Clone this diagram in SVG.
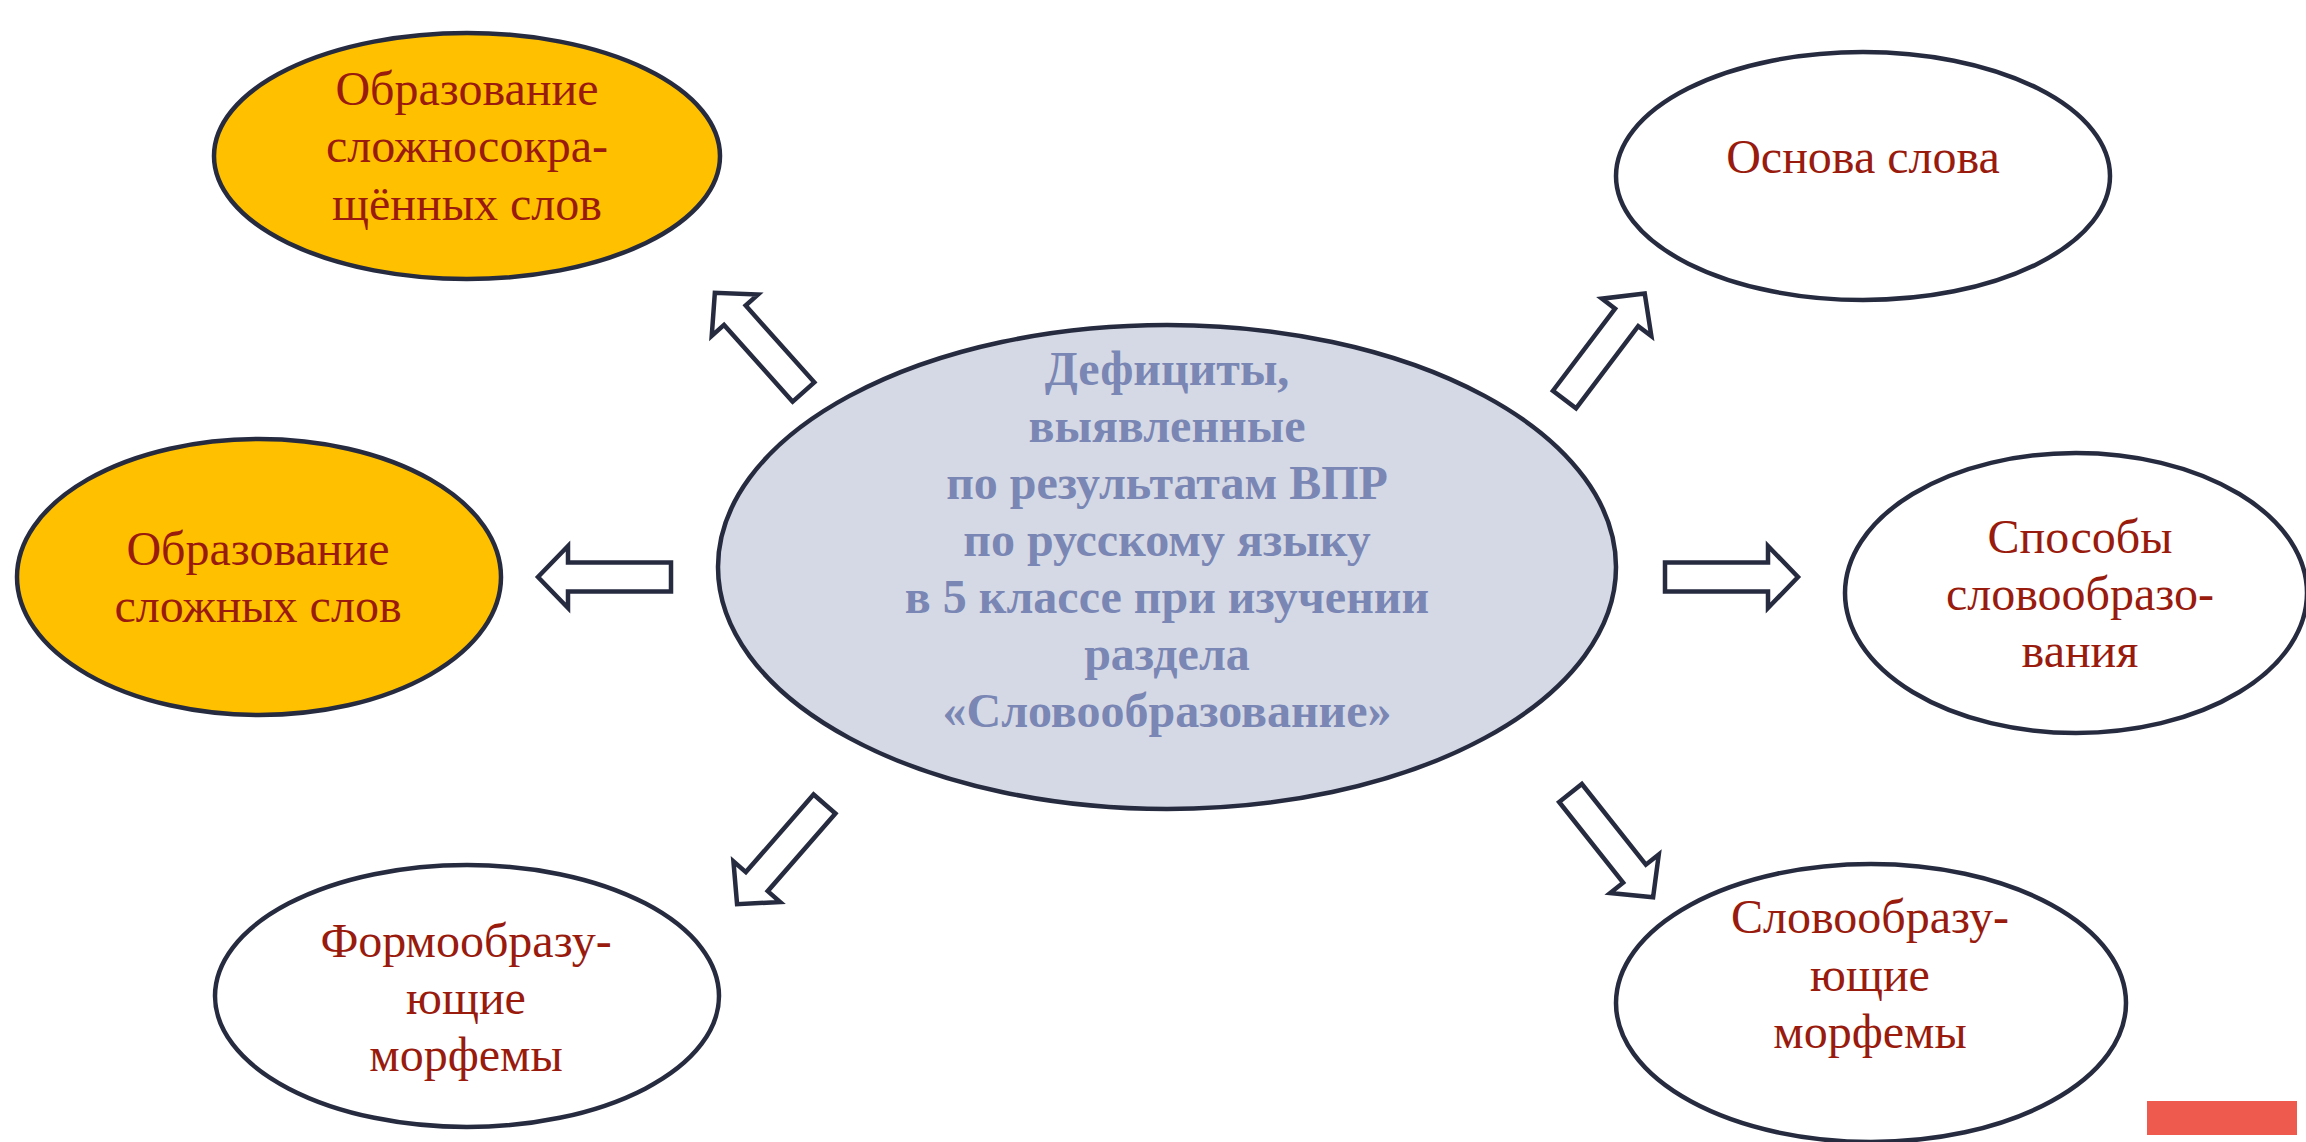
<svg xmlns="http://www.w3.org/2000/svg" xmlns:xlink="http://www.w3.org/1999/xlink" width="2306" height="1142" viewBox="0 0 2306 1142">
<style>
.node{stroke:#262B40;stroke-width:4.5}
.yellow{fill:#FFC000}
.white{fill:#FFFFFF}
.center{fill:#D5D9E5}
.lbl{font-family:"Liberation Serif","Times New Roman",serif;font-size:48px;fill:#981B0E;text-anchor:middle}
.clbl{font-family:"Liberation Serif","Times New Roman",serif;font-size:48px;font-weight:bold;fill:#7A86B4;text-anchor:middle}
.arr{fill:#FFFFFF;stroke:#262B40;stroke-width:4.5;stroke-linejoin:miter}
</style>
<defs>
<polygon id="blockArrow" class="arr" points="0,-14.5 103,-14.5 103,-31 133,0 103,31 103,14.5 0,14.5"/>
</defs>
<rect width="2306" height="1142" fill="#FFFFFF"/>
<g id="connectors">
<use xlink:href="#blockArrow" href="#blockArrow" transform="translate(1665,577) rotate(0)"/>
<use xlink:href="#blockArrow" href="#blockArrow" transform="translate(671,577) rotate(180)"/>
<use xlink:href="#blockArrow" href="#blockArrow" transform="translate(803.5,392) rotate(-131.8)"/>
<use xlink:href="#blockArrow" href="#blockArrow" transform="translate(1564.5,399.5) rotate(-52.9)"/>
<use xlink:href="#blockArrow" href="#blockArrow" transform="translate(824.5,804) rotate(131.1)"/>
<use xlink:href="#blockArrow" href="#blockArrow" transform="translate(1570.5,793) rotate(51.6)"/>
</g>
<g id="node-center">
<ellipse class="node center" cx="1167" cy="567" rx="449" ry="242"/>
<text class="clbl" x="1167" y="385">Дефициты,</text>
<text class="clbl" x="1167" y="442">выявленные</text>
<text class="clbl" x="1167" y="499">по результатам ВПР</text>
<text class="clbl" x="1167" y="556">по русскому языку</text>
<text class="clbl" x="1167" y="613">в 5 классе при изучении</text>
<text class="clbl" x="1167" y="670">раздела</text>
<text class="clbl" x="1167" y="727">«Словообразование»</text>
</g>
<g id="node-slozhnosokr">
<ellipse class="node yellow" cx="467" cy="156" rx="253" ry="123"/>
<text class="lbl" x="467" y="105">Образование</text>
<text class="lbl" x="467" y="162">сложносокра-</text>
<text class="lbl" x="467" y="220">щённых слов</text>
</g>
<g id="node-slozhnye">
<ellipse class="node yellow" cx="259" cy="577" rx="242" ry="138"/>
<text class="lbl" x="258" y="565">Образование</text>
<text class="lbl" x="258" y="622">сложных слов</text>
</g>
<g id="node-formoobr">
<ellipse class="node white" cx="467" cy="996" rx="252" ry="131"/>
<text class="lbl" x="466" y="957">Формообразу-</text>
<text class="lbl" x="466" y="1014">ющие</text>
<text class="lbl" x="466" y="1071">морфемы</text>
</g>
<g id="node-osnova">
<ellipse class="node white" cx="1863" cy="176" rx="247" ry="124"/>
<text class="lbl" x="1863" y="173">Основа слова</text>
</g>
<g id="node-sposoby">
<ellipse class="node white" cx="2076" cy="593" rx="231" ry="140"/>
<text class="lbl" x="2080" y="553">Способы</text>
<text class="lbl" x="2080" y="610">словообразо-</text>
<text class="lbl" x="2080" y="667">вания</text>
</g>
<g id="node-slovoobr">
<ellipse class="node white" cx="1871" cy="1003" rx="255" ry="139"/>
<text class="lbl" x="1870" y="933">Словообразу-</text>
<text class="lbl" x="1870" y="991">ющие</text>
<text class="lbl" x="1870" y="1048">морфемы</text>
</g>
<rect x="2147" y="1101" width="150" height="34" fill="#EF5A4E"/>
</svg>
